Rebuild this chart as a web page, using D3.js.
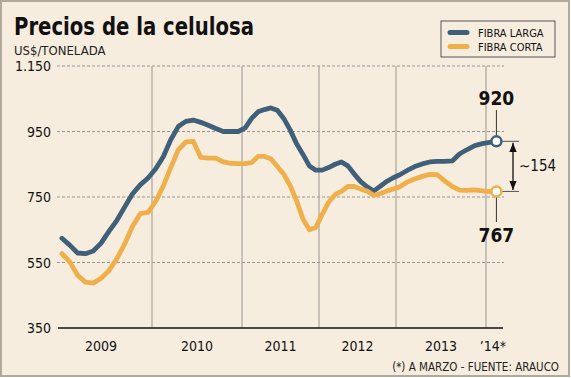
<!DOCTYPE html>
<html>
<head>
<meta charset="utf-8">
<script src="https://cdn.jsdelivr.net/npm/d3@7"></script>
<style>
  body { margin: 0; background: #fff; }
  text { font-family: "DejaVu Sans Condensed", "DejaVu Sans", sans-serif; }
</style>
</head>
<body>
<div id="chart"></div>
<script>
const width = 571, height = 378;

// monthly prices, Jan 2009 - Mar 2014 (US$/ton)
const larga = [624, 603, 579, 577, 585, 609, 645, 678, 719, 759, 787, 808,
    836, 873, 925, 965, 981, 985, 978, 969, 959, 950, 950, 950,
    961, 990, 1010, 1017, 1022, 1015, 990, 955, 913, 880, 845, 832,
    832, 840, 850, 857, 845, 820, 797, 781, 768, 782, 797, 808,
    818, 831, 843, 851, 857, 859, 859, 860, 882, 895, 907, 913,
    916, 918, 920];
const corta = [577, 552, 511, 490, 487, 502, 525, 561, 606, 660, 699, 703,
    737, 783, 840, 894, 918, 920, 871, 869, 869, 857, 853, 852,
    852, 855, 874, 874, 867, 843, 820, 785, 739, 683, 650, 657,
    697, 734, 757, 767, 782, 782, 774, 768, 755, 760, 768, 774,
    781, 796, 805, 813, 819, 818, 799, 782, 771, 770, 772, 769,
    767, 767, 767];
const years = [2009, 2010, 2011, 2012, 2013, 2014];
const yearLabels = ["2009", "2010", "2011", "2012", "2013", "\u201914*"];
const yTicks = [350, 550, 750, 950, 1150];
const series = [
    { name: "FIBRA LARGA", values: larga, color: "#40607a" },
    { name: "FIBRA CORTA", values: corta, color: "#efb04c" }
];

// the original stretches the years unevenly, so the time scale is piecewise
const yearWidths = [94, 90, 77, 77, 90, 50];
const x0 = 58;
let acc = x0;
const xRange = [x0];
yearWidths.forEach(w => { acc += w; xRange.push(acc); });
const x = d3.scaleLinear()
    .domain([2009, 2010, 2011, 2012, 2013, 2014, 2015])
    .range(xRange);

const y = d3.scaleLinear()
    .domain([350, 1150])
    .range([328, 66]);

const monthT = i => 2009 + Math.floor(i / 12) + ((i % 12) + 0.5) / 12;

const svg = d3.select("#chart").append("svg")
    .attr("width", width)
    .attr("height", height);

svg.append("rect")
    .attr("x", 1).attr("y", 1)
    .attr("width", width - 3).attr("height", height - 3)
    .attr("fill", "#f7eddf")
    .attr("stroke", "#b3a89c")
    .attr("stroke-width", 2);

svg.append("text")
    .attr("x", 14).attr("y", 35)
    .attr("font-size", 25).attr("font-weight", "bold")
    .attr("fill", "#111")
    .attr("textLength", 240)
    .attr("lengthAdjust", "spacingAndGlyphs")
    .text("Precios de la celulosa");

svg.append("text")
    .attr("x", 14).attr("y", 55)
    .attr("font-size", 13)
    .attr("fill", "#222")
    .text("US$/TONELADA");

// horizontal dashed grid
svg.append("g")
    .selectAll("line")
    .data(yTicks.slice(1))
    .enter().append("line")
    .attr("x1", 57).attr("x2", 504)
    .attr("y1", d => y(d)).attr("y2", d => y(d))
    .attr("stroke", "#9a9590")
    .attr("stroke-dasharray", "3,2");

// year separators
svg.append("g")
    .selectAll("line")
    .data(years.slice(1))
    .enter().append("line")
    .attr("x1", d => x(d)).attr("x2", d => x(d))
    .attr("y1", y(1150)).attr("y2", y(350))
    .attr("stroke", "#a8a39c")
    .attr("stroke-width", 1.2);

svg.append("g")
    .selectAll("text")
    .data(yTicks)
    .enter().append("text")
    .attr("x", 51)
    .attr("y", d => y(d) + 5)
    .attr("text-anchor", "end")
    .attr("font-size", 14)
    .attr("fill", "#111")
    .text(d => d3.format(",")(d).replace(",", "."));

svg.append("line")
    .attr("x1", x0).attr("x2", 503)
    .attr("y1", y(350)).attr("y2", y(350))
    .attr("stroke", "#111")
    .attr("stroke-width", 1.6);

svg.append("g")
    .selectAll("text")
    .data(yearLabels)
    .enter().append("text")
    .attr("x", (d, i) => i < 5 ? (x(years[i]) + x(years[i] + 1)) / 2 - (i === 0 ? 4 : 0) : x(2014) + 7)
    .attr("y", 351)
    .attr("text-anchor", "middle")
    .attr("font-size", 14)
    .attr("fill", "#111")
    .text(d => d);

svg.append("text")
    .attr("x", 559).attr("y", 371)
    .attr("text-anchor", "end")
    .attr("font-size", 11.5)
    .attr("fill", "#222")
    .text("(*) A MARZO - FUENTE: ARAUCO");

const line = d3.line()
    .x((d, i) => x(monthT(i)))
    .y(d => y(d));

svg.append("g")
    .selectAll("path")
    .data(series)
    .enter().append("path")
    .attr("d", d => line(d.values))
    .attr("fill", "none")
    .attr("stroke", d => d.color)
    .attr("stroke-width", 4.8)
    .attr("stroke-linejoin", "round")
    .attr("stroke-linecap", "round");

// end annotations
const lastI = larga.length - 1;
const ex = x(monthT(lastI));
const yL = y(larga[lastI]), yC = y(corta[lastI]);

svg.append("line")
    .attr("x1", ex).attr("x2", ex)
    .attr("y1", 110).attr("y2", yL)
    .attr("stroke", "#333");
svg.append("line")
    .attr("x1", ex).attr("x2", ex)
    .attr("y1", yC).attr("y2", 222)
    .attr("stroke", "#333");
[yL, yC].forEach(yy => {
    svg.append("line")
        .attr("x1", ex).attr("x2", 519)
        .attr("y1", yy).attr("y2", yy)
        .attr("stroke", "#555");
});

svg.append("text")
    .attr("x", ex).attr("y", 105)
    .attr("text-anchor", "middle")
    .attr("font-size", 19).attr("font-weight", "bold")
    .attr("fill", "#111")
    .text(larga[lastI]);
svg.append("text")
    .attr("x", ex).attr("y", 242)
    .attr("text-anchor", "middle")
    .attr("font-size", 19).attr("font-weight", "bold")
    .attr("fill", "#111")
    .text(corta[lastI]);

svg.selectAll("circle.end")
    .data(series)
    .enter().append("circle")
    .attr("class", "end")
    .attr("cx", ex)
    .attr("cy", d => y(d.values[lastI]))
    .attr("r", 5)
    .attr("fill", "#fff")
    .attr("stroke", d => d.color)
    .attr("stroke-width", 2.5);

// double arrow for the gap
const defs = svg.append("defs");
defs.append("marker")
    .attr("id", "ah")
    .attr("viewBox", "0 0 10 10")
    .attr("refX", 10).attr("refY", 5)
    .attr("markerWidth", 7).attr("markerHeight", 7)
    .attr("orient", "auto-start-reverse")
    .append("path")
    .attr("d", "M0,1L10,5L0,9Z")
    .attr("fill", "#111");

svg.append("line")
    .attr("x1", 513).attr("x2", 513)
    .attr("y1", yL + 1.5).attr("y2", yC - 1.5)
    .attr("stroke", "#111")
    .attr("stroke-width", 1.3)
    .attr("marker-start", "url(#ah)")
    .attr("marker-end", "url(#ah)");

svg.append("text")
    .attr("x", 519).attr("y", (yL + yC) / 2 + 5)
    .attr("font-size", 15)
    .attr("fill", "#111")
    .text("\u223C" + (larga[lastI] - corta[lastI] + 1));

// legend
const lg = svg.append("g").attr("transform", "translate(441,21)");
lg.append("rect")
    .attr("width", 114).attr("height", 36)
    .attr("fill", "#f7eddf")
    .attr("stroke", "#555");
lg.selectAll("line")
    .data(series)
    .enter().append("line")
    .attr("x1", 9).attr("x2", 26)
    .attr("y1", (d, i) => 11.5 + i * 14).attr("y2", (d, i) => 11.5 + i * 14)
    .attr("stroke", d => d.color)
    .attr("stroke-width", 5)
    .attr("stroke-linecap", "round");
lg.selectAll("text")
    .data(series)
    .enter().append("text")
    .attr("x", 37)
    .attr("y", (d, i) => 15.5 + i * 14)
    .attr("font-size", 11)
    .attr("fill", "#111")
    .text(d => d.name);
</script>
</body>
</html>
